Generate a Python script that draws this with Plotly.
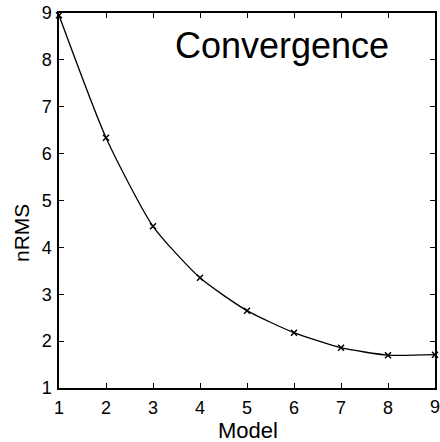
import plotly.graph_objects as go

models = [1, 2, 3, 4, 5, 6, 7, 8, 9]
nrms = [8.95, 6.34, 4.45, 3.35, 2.65, 2.18, 1.86, 1.70, 1.71]
x_ticks = [1, 2, 3, 4, 5, 6, 7, 8, 9]
y_ticks = [1, 2, 3, 4, 5, 6, 7, 8, 9]

FONT = "Liberation Sans, Arial"

fig = go.Figure()
fig.add_trace(go.Scatter(
    x=models, y=nrms, mode="lines+markers",
    line=dict(color="black", width=1.3, shape="spline", smoothing=0.6),
    marker=dict(symbol="x-thin", size=6, line=dict(color="black", width=1.5)),
    cliponaxis=False,
))

axis_common = dict(
    showgrid=False, zeroline=False, showline=True, linecolor="black", linewidth=1.5,
    mirror="ticks", ticks="inside", ticklen=5, tickwidth=1, tickcolor="black",
    tickfont=dict(family=FONT, size=18, color="black"), automargin=False,
)
# last x tick label is drawn as an annotation so it is not dropped at the figure edge
fig.update_xaxes(range=[1, 9], tickvals=x_ticks[:-1], ticklabelstandoff=3, **axis_common)
fig.update_yaxes(range=[1, 9], tickvals=y_ticks, ticklabelstandoff=2, **axis_common)

fig.update_layout(
    width=440, height=442, margin=dict(l=59, r=5, t=13, b=54),
    plot_bgcolor="white", paper_bgcolor="white", showlegend=False,
    annotations=[
        dict(text="Convergence", x=(282 - 59) / 376, y=(388 - 46) / 375,
             xref="paper", yref="paper", showarrow=False,
             xanchor="center", yanchor="middle",
             font=dict(family=FONT, size=36, color="black")),
        dict(text="Model", x=(248 - 59) / 376, y=-(430 - 388) / 375,
             xref="paper", yref="paper", showarrow=False,
             xanchor="center", yanchor="middle",
             font=dict(family=FONT, size=22, color="black")),
        dict(text="nRMS", x=-(59 - 21) / 376, y=(388 - 233) / 375,
             xref="paper", yref="paper", showarrow=False, textangle=-90,
             xanchor="center", yanchor="middle",
             font=dict(family=FONT, size=21, color="black")),
        dict(text=str(x_ticks[-1]), x=x_ticks[-1], xref="x", y=-(407 - 388) / 375,
             yref="paper", showarrow=False, xanchor="center", yanchor="middle",
             font=dict(family=FONT, size=18, color="black")),
    ],
)
fig.write_html("out.html", config={"displayModeBar": False},
               post_script="document.body.style.margin='0';document.body.style.overflow='hidden';")
